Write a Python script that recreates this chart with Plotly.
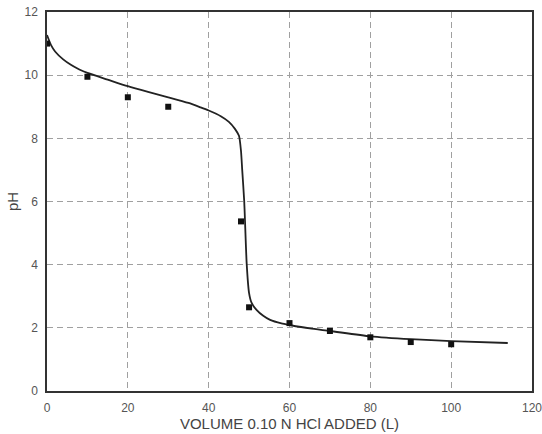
import plotly.graph_objects as go

# Measured data points
vol_pts = [0, 10, 20, 30, 48, 50, 60, 70, 80, 90, 100]
ph_pts = [11.0, 9.95, 9.3, 9.0, 5.37, 2.65, 2.15, 1.9, 1.7, 1.55, 1.48]

# Titration curve
vol_curve = [0, 1, 2, 4, 6, 8, 10, 15, 20, 25, 30, 35, 38, 40, 43, 45, 46.5, 47.5,
             48, 48.3, 48.8, 49.4, 50, 50.6, 51.9, 53.5, 55.2, 58, 60, 65, 70, 80, 90, 100, 114]
ph_curve = [11.27, 10.95, 10.75, 10.5, 10.32, 10.18, 10.07, 9.86, 9.65, 9.47, 9.3, 9.12, 8.98,
            8.88, 8.7, 8.52, 8.3, 8.08, 7.6, 7.0, 6.0, 4.05, 3.1, 2.8, 2.56, 2.38, 2.25, 2.14,
            2.09, 1.98, 1.9, 1.73, 1.64, 1.58, 1.52]

x_ticks = [0, 20, 40, 60, 80, 100, 120]
y_ticks = [0, 2, 4, 6, 8, 10, 12]

fig = go.Figure()
fig.add_trace(go.Scatter(x=vol_curve, y=ph_curve, mode="lines",
                         line=dict(color="#222222", width=1.8, shape="spline", smoothing=0.6),
                         showlegend=False, hoverinfo="skip"))
fig.add_trace(go.Scatter(x=vol_pts, y=ph_pts, mode="markers",
                         marker=dict(symbol="square", size=6, color="#111111"),
                         showlegend=False))

axis_common = dict(showline=True, linecolor="#333333", linewidth=1.5, mirror=True,
                   showgrid=True, gridcolor="#a0a0a0", griddash="6px,4px", gridwidth=1.2,
                   zeroline=False, ticks="", automargin=False, ticklabelstandoff=5,
                   ticklabeloverflow="allow",
                   tickfont=dict(family="Liberation Sans, Arial", size=12, color="#555555"))

fig.update_xaxes(range=[0, 120], tickvals=x_ticks,
                 title=dict(text="VOLUME 0.10 N HCl ADDED (L)", standoff=4,
                            font=dict(family="Liberation Sans, Arial", size=15, color="#444444")),
                 **axis_common)
fig.update_yaxes(range=[0, 12], tickvals=y_ticks,
                 title=dict(text="pH", standoff=2,
                            font=dict(family="Liberation Sans, Arial", size=15, color="#444444")),
                 **axis_common)

fig.update_layout(width=542, height=434, margin=dict(l=47, r=10, t=12, b=43),
                  plot_bgcolor="white", paper_bgcolor="white")

fig.write_html("out.html", config={"displayModeBar": False},
               post_script="document.body.style.margin='0';")
